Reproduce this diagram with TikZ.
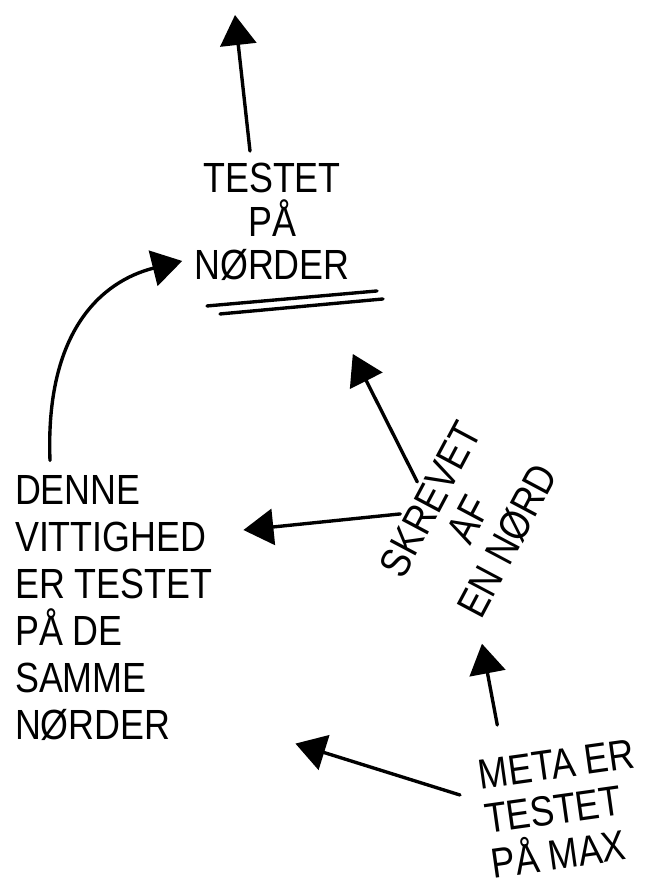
\documentclass[tikz,border=0pt]{standalone}
\usepackage{fontspec}
\newfontfamily\hand[FakeStretch=0.85]{Liberation Sans}
\usetikzlibrary{calc,arrows.meta}

\begin{document}
\begin{tikzpicture}[x=0.025cm,y=-0.025cm]
\tikzstyle{every node}=[inner sep=2pt]
\tikzstyle{note}=[font=\hand\fontsize{30}{33}\selectfont]
\tikzstyle{pen}=[line width=2.4pt, line cap=round]
\tikzstyle{arr}=[pen,-{Triangle[length=0.75cm,width=0.9cm]}]

\useasboundingbox (0,0) rectangle (662,890);

\node[note,align=center,font=\hand\fontsize{30}{31}\selectfont] (tested) at (272,222) {TESTET\\PÅ\\NØRDER};
\node[note,align=left,anchor=west,font=\hand\fontsize{30}{33.4}\selectfont] (joke) at (12,608)
     {DENNE\\VITTIGHED\\ER TESTET\\PÅ DE\\SAMME\\NØRDER};
\node[note,align=center,rotate=62,font=\hand\fontsize{30}{31}\selectfont] (writer) at (469,520) {SKREVET\\AF\\EN NØRD};
\node[note,align=left,anchor=west,rotate=8,font=\hand\fontsize{30}{32}\selectfont] (meta) at (482,820)
     {META ER\\TESTET\\PÅ MAX};
\coordinate (up) at (235,15);

\draw[pen] ($(tested.south)+(-65,22)$) -- ($(tested.south)+(105,7)$);
\draw[pen] ($(tested.south)+(-52,30)$) -- ($(tested.south)+(111,15)$);

\draw[arr] ($(tested.north)+(-22,-9)$) -- (up);
\draw[arr] ($(joke.north west)+(38,-12)$) .. controls +(-5,-130) and +(-80,20) .. ($(tested.south west)+(-9,-23)$);
\draw[arr] ($(writer.north)+(3,-9)$) -- ($(tested.south east)+(0,70)$);
\draw[arr] ($(writer.north)+(-14,23)$) -- ($(joke.east)+(28,-78)$);
\draw[arr] ($(meta.north west)+(24,-33)$) -- ($(writer.south west)+(-1,18)$);
\draw[arr] ($(meta.west)+(-22,-25)$) -- ($(joke.south east)+(80,0)$);
\end{tikzpicture}
\end{document}
